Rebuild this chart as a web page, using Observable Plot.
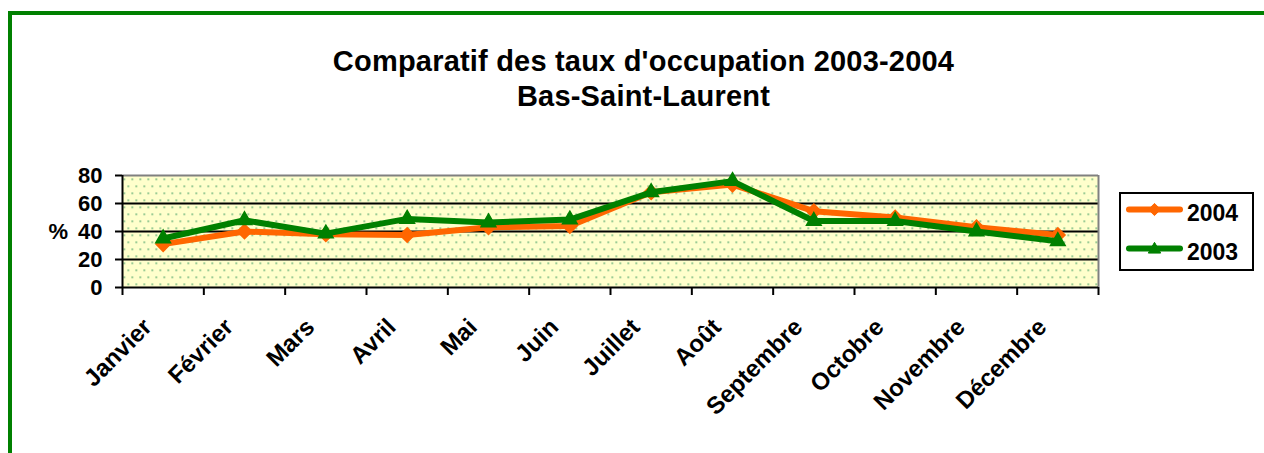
<!DOCTYPE html>
<html>
<head>
<meta charset="utf-8">
<script src="https://cdn.jsdelivr.net/npm/d3@7"></script>
<script src="https://cdn.jsdelivr.net/npm/@observablehq/plot@0.6"></script>
<style>
  html, body { margin: 0; padding: 0; background: #fff; }
  body { width: 1264px; height: 453px; overflow: hidden; position: relative; font-family: "Liberation Sans", Arial, sans-serif; }
  #frameBorder { position: absolute; left: 8px; top: 11px; width: 1400px; height: 600px; border-top: 4px solid #008000; border-left: 4px solid #008000; }
  #title { position: absolute; left: 0; top: 44px; width: 1287px; text-align: center; font-weight: bold; font-size: 29px; letter-spacing: 0.2px; line-height: 34.5px; color: #000; z-index: 2; }
  #chart { position: absolute; left: 0; top: 0; z-index: 1; }
  #legend { position: absolute; left: 1119px; top: 192px; z-index: 3; }
</style>
</head>
<body>
<div id="frameBorder"></div>
<div id="title">Comparatif des taux d'occupation 2003-2004<br>Bas-Saint-Laurent</div>
<div id="chart"></div>
<div id="legend"></div>
<script>
const months = ["Janvier","Février","Mars","Avril","Mai","Juin","Juillet","Août","Septembre","Octobre","Novembre","Décembre"];
const taux2004 = [31, 40, 38, 37.5, 43, 44, 68, 73.5, 54.5, 50, 43, 37.5];
const taux2003 = [35, 48, 38.5, 49, 46.5, 48.5, 68, 76, 47.5, 47.5, 40, 33];
const yTicks = [0, 20, 40, 60, 80];
const gridValues = [20, 40, 60];
const seriesNames = ["2004", "2003"];
const seriesColors = ["#FF6600", "#008000"];

const rows2004 = months.map((m, i) => ({i, month: m, v: taux2004[i]}));
const rows2003 = months.map((m, i) => ({i, month: m, v: taux2003[i]}));
const pos = d => d.i + 0.5;

const font = '"Liberation Sans", Arial, sans-serif';

const plot = Plot.plot({
  width: 1264,
  height: 453,
  marginTop: 175,
  marginBottom: 166,
  marginLeft: 122,
  marginRight: 166,
  style: {fontFamily: font, background: "transparent", overflow: "visible"},
  x: {type: "linear", domain: [0, months.length]},
  y: {domain: [0, 80]},
  marks: [
    Plot.frame({fill: "url(#dots)", stroke: "none"}),
    Plot.ruleY(gridValues, {stroke: "#000", strokeWidth: 2}),
    Plot.ruleY([80], {stroke: "#808080", strokeWidth: 2}),
    Plot.ruleX([months.length], {stroke: "#808080", strokeWidth: 2}),
    Plot.axisY({ticks: yTicks, tickSize: 7, tickPadding: 13, strokeWidth: 2, fontSize: 22, fontWeight: "bold", fill: "#000", label: null}),
    Plot.axisX({ticks: d3.range(months.length + 1), tickFormat: () => "", tickSize: 8, strokeWidth: 2, label: null}),
    Plot.ruleY([0], {stroke: "#000", strokeWidth: 2}),
    Plot.ruleX([0], {stroke: "#000", strokeWidth: 2}),
    Plot.text(["%"], {frameAnchor: "left", dx: -74, textAnchor: "start", fontSize: 22, fontWeight: "bold", fill: "#000"}),
    Plot.text(months.map((m, i) => ({i, month: m})), {x: pos, y: () => 0, text: "month", rotate: -45, textAnchor: "end", lineAnchor: "bottom", dx: -10, dy: 41, fontSize: 24, fontWeight: "bold", fill: "#000"}),
    Plot.line(rows2004, {x: pos, y: "v", stroke: seriesColors[0], strokeWidth: 6, strokeLinejoin: "round"}),
    Plot.dot(rows2004, {x: pos, y: "v", symbol: "diamond2", r: 6.5, fill: seriesColors[0], stroke: seriesColors[0]}),
    Plot.line(rows2003, {x: pos, y: "v", stroke: seriesColors[1], strokeWidth: 6, strokeLinejoin: "round"}),
    Plot.dot(rows2003, {x: pos, y: "v", symbol: "triangle2", r: 7, fill: seriesColors[1], stroke: seriesColors[1]})
  ]
});

// pattern for the plot area background
const svg = d3.select(plot);
const defs = svg.insert("defs", ":first-child");
const pat = defs.append("pattern").attr("id", "dots").attr("patternUnits", "userSpaceOnUse")
  .attr("x", 122).attr("y", 175).attr("width", 8).attr("height", 14);
pat.append("rect").attr("width", 8).attr("height", 14).attr("fill", "#FFFFCC");
pat.append("rect").attr("x", 1).attr("y", 3).attr("width", 1.5).attr("height", 1.5).attr("fill", "#4DA36A");
pat.append("rect").attr("x", 5).attr("y", 10).attr("width", 1.5).attr("height", 1.5).attr("fill", "#4DA36A");

document.getElementById("chart").appendChild(plot);

// legend
const lg = d3.select("#legend").append("svg").attr("width", 136).attr("height", 80)
  .style("font-family", font);
lg.append("rect").attr("x", 1).attr("y", 1).attr("width", 133).attr("height", 77)
  .attr("fill", "#fff").attr("stroke", "#000").attr("stroke-width", 2);
seriesNames.forEach((name, k) => {
  const cy = 17.5 + k * 39;
  const g = lg.append("g");
  g.append("line").attr("x1", 10).attr("x2", 61).attr("y1", cy).attr("y2", cy)
    .attr("stroke", seriesColors[k]).attr("stroke-width", 6).attr("stroke-linecap", "round");
  const sym = k === 0 ? d3.symbolDiamond2 : d3.symbolTriangle2;
  g.append("path").attr("d", d3.symbol(sym, k === 0 ? 95 : 110)())
    .attr("transform", `translate(35.5,${cy + (k === 0 ? 0 : 1)})`)
    .attr("fill", seriesColors[k]).attr("stroke", seriesColors[k]);
  g.append("text").attr("x", 68).attr("y", cy + 11.5).text(name)
    .attr("font-size", 23).attr("font-weight", "bold").attr("fill", "#000");
});
</script>
</body>
</html>
